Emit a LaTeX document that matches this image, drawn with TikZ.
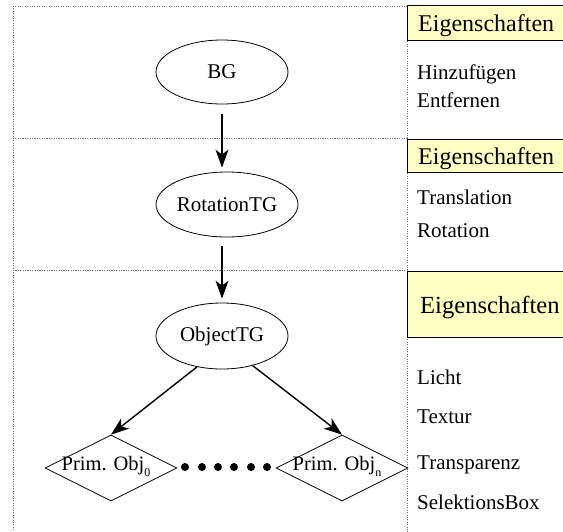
\documentclass[tikz,border=0pt]{standalone}
\usepackage{fontspec}
\setmainfont{Liberation Serif}
\usetikzlibrary{shapes.geometric,arrows.meta}

\definecolor{propyellow}{RGB}{255,255,196}
\definecolor{framegray}{RGB}{110,110,110}

\newcommand{\subidx}[1]{\raisebox{-6pt}{\fontsize{12}{12}\selectfont #1}}

\tikzset{
  frame/.style={draw=framegray, line width=0.8pt, dash pattern=on 1pt off 1.4pt},
  graphnode/.style={draw, ellipse, line width=0.8pt, inner sep=0pt,
    font=\fontsize{21}{25}\selectfont},
  primobj/.style={draw, diamond, line width=0.8pt, inner sep=0pt,
    minimum width=132pt, minimum height=66pt},
  primlabel/.style={font=\fontsize{20.5}{24}\selectfont, inner sep=0pt},
  link/.style={line width=1.4pt, -{Stealth[length=18pt, width=13pt, inset=5pt]}},
  prophead/.style={fill=propyellow, draw=black, line width=0.7pt},
  propheadtext/.style={anchor=base west, inner sep=0pt, font=\fontsize{24}{28}\selectfont},
  propitem/.style={anchor=base west, inner sep=0pt, font=\fontsize{21}{25}\selectfont},
  ellipsis/.style={fill=black, circle, inner sep=0pt, minimum size=8pt}
}

\begin{document}
\begin{tikzpicture}[x=1pt, y=-1pt]
  \useasboundingbox (0,0) rectangle (563,531);
  \clip (0,0) rectangle (563,531);

  % scene-graph levels
  \draw[frame] (13,6) rectangle (407,138);
  \draw[frame] (13,138) rectangle (407,270);
  \draw[frame] (13,270) rectangle (407,545);

  % property panels
  \draw[prophead] (407,5) rectangle (575,40);
  \node[propheadtext] (h1) at (418,31) {Eigenschaften};
  \node[propitem] (i11) at (417,79) {Hinzufügen};
  \node[propitem] (i12) at (417,107) {Entfernen};

  \draw[prophead] (407,139) rectangle (575,172);
  \node[propheadtext] (h2) at (418,164) {Eigenschaften};
  \node[propitem] (i21) at (417,204) {Translation};
  \node[propitem] (i22) at (417,237) {Rotation};

  \draw[prophead] (407,271) rectangle (575,337);
  \node[propheadtext, font=\fontsize{24.6}{29}\selectfont] (h3) at (420,313) {Eigenschaften};
  \node[propitem] (i31) at (417,384) {Licht};
  \node[propitem] (i32) at (417,423) {Textur};
  \node[propitem] (i33) at (417,469) {Transparenz};
  \node[propitem] (i34) at (417,509) {SelektionsBox};

  % graph nodes
  \node[graphnode, minimum width=132pt, minimum height=64pt] (bg) at (222,72) {BG};
  \node[graphnode, minimum width=142pt, minimum height=65pt] (rot) at (227,204.5) {RotationTG};
  \node[graphnode, minimum width=132pt, minimum height=66pt] (obj) at (222,336) {ObjectTG};

  \node[primobj] (p0) at (111,468) {};
  \node[primlabel] (p0t) at (106,466) {Prim. Obj\subidx{0}};
  \node[primobj] (pn) at (342,468) {};
  \node[primlabel] (pnt) at (337,466) {Prim. Obj\subidx{n}};

  \foreach \i/\x in {1/185,2/202,3/218,4/234,5/251,6/267}
    \node[ellipsis] (dot\i) at (\x,467) {};

  % connectors
  \draw[link, shorten <=10pt, shorten >=4pt] (bg.south -| 222,0) -- (rot.north -| 222,0);
  \draw[link, shorten <=9pt, shorten >=4pt] (rot.south -| 222,0) -- (obj.north);
  \draw[link] (obj.-129) -- (p0.north);
  \draw[link] (obj.-44) -- (pn.north);
\end{tikzpicture}
\end{document}
